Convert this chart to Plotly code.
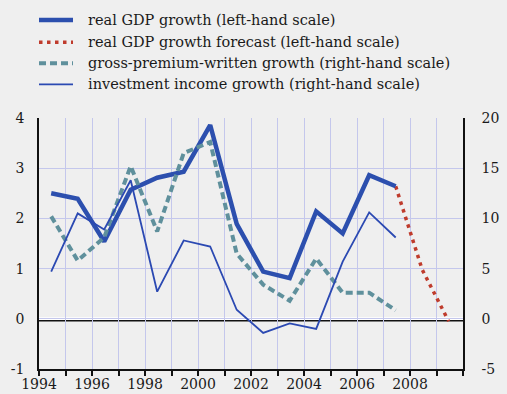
import plotly.graph_objects as go

# ---- data ----
years = list(range(1994, 2008))
gdp_growth = [2.50, 2.39, 1.54, 2.57, 2.81, 2.93, 3.86, 1.89, 0.94, 0.81, 2.14, 1.70, 2.86, 2.64]
forecast_years = [2007, 2008, 2009]
gdp_forecast = [2.64, 0.98, -0.05]
premium_growth = [10.2, 5.8, 8.1, 15.2, 8.7, 16.5, 17.6, 6.5, 3.4, 1.8, 6.0, 2.6, 2.6, 0.85]
investment_growth = [4.7, 10.5, 8.9, 13.8, 2.7, 7.8, 7.2, 0.9, -1.4, -0.45, -1.0, 5.7, 10.6, 8.1]

series_names = [
    "real GDP growth (left-hand scale)",
    "real GDP growth forecast (left-hand scale)",
    "gross-premium-written growth (right-hand scale)",
    "investment income growth (right-hand scale)",
]
x_tick_years = list(range(1994, 2010, 2))
left_ticks = [-1, 0, 1, 2, 3, 4]
right_ticks = [-5, 0, 5, 10, 15, 20]

MID = 0.46  # observations plotted mid-year
x_obs = [y + MID for y in years]
x_fc = [y + MID for y in forecast_years]

BLUE = "#2c4fae"
THIN = "#2b49b2"
TEAL = "#5f909c"
RED = "#bf3b2c"
GRID = "#c4c7ec"
BG = "#efefef"
TXT = "#1a1a1a"
FONT = "DejaVu Serif"
FS_LEG = 14.5
FS_TICK = 14

styles = [
    dict(color=BLUE, width=4.5, dash="solid"),
    dict(color=RED, width=3.5, dash="3.5px,4.5px"),
    dict(color=TEAL, width=4, dash="7px,4px"),
    dict(color=THIN, width=1.8, dash="solid"),
]

fig = go.Figure()
fig.add_trace(go.Scatter(x=x_obs, y=premium_growth, mode="lines", yaxis="y2",
                         line=styles[2], name=series_names[2], showlegend=False))
fig.add_trace(go.Scatter(x=x_obs, y=investment_growth, mode="lines", yaxis="y2",
                         line=styles[3], name=series_names[3], showlegend=False))
fig.add_trace(go.Scatter(x=x_fc, y=gdp_forecast, mode="lines",
                         line=styles[1], name=series_names[1], showlegend=False))
fig.add_trace(go.Scatter(x=x_obs, y=gdp_growth, mode="lines",
                         line=styles[0], name=series_names[0], showlegend=False))

# ---- plot geometry (pixels) ----
W, H = 507, 394
L, R, T, B = 39, 44, 118, 25
pw, ph = W - L - R, H - T - B

def px_x(p):
    return (p - L) / pw

def px_y(p):
    return (H - B - p) / ph

# manual legend
legend_rows = [20, 42.3, 63.3, 84.3]
shapes = []
annotations = []
for name, st, ry in zip(series_names, styles, legend_rows):
    shapes.append(dict(type="line", xref="paper", yref="paper",
                       x0=px_x(39), x1=px_x(73), y0=px_y(ry), y1=px_y(ry),
                       line=dict(color=st["color"], width=st["width"], dash=st["dash"])))
    annotations.append(dict(xref="paper", yref="paper", x=px_x(85.5), y=px_y(ry),
                            xanchor="left", yanchor="middle", showarrow=False,
                            text=name, font=dict(family=FONT, size=FS_LEG, color=TXT)))

# zero line: white band with dark line just below
shapes.append(dict(type="line", xref="paper", yref="y", x0=0, x1=1, y0=0, y1=0,
                   layer="between", line=dict(color="white", width=3)))
shapes.append(dict(type="line", xref="paper", yref="y", ysizemode="pixel", yanchor=0,
                   x0=0, x1=1, y0=-2, y1=-2, layer="between",
                   line=dict(color="#111111", width=1.5)))

tickfont = dict(family=FONT, size=FS_TICK, color=TXT)

fig.update_layout(
    width=W, height=H,
    margin=dict(l=L, r=R, t=T, b=B, pad=0),
    paper_bgcolor=BG, plot_bgcolor=BG,
    font=dict(family=FONT, size=FS_TICK, color=TXT),
    showlegend=False,
    shapes=shapes,
    annotations=annotations,
    xaxis=dict(
        range=[1994, 2010], autorange=False,
        tickmode="array", tickvals=x_tick_years, ticktext=[str(v) for v in x_tick_years],
        ticks="outside", ticklen=5, tickwidth=1.5, tickcolor="#111111",
        ticklabelstandoff=-4,
        minor=dict(dtick=1, tick0=1994, ticks="outside", ticklen=5, tickwidth=1.5,
                   tickcolor="#111111", showgrid=True, gridcolor=GRID, gridwidth=1),
        showgrid=True, gridcolor=GRID, gridwidth=1,
        showline=True, linecolor="#111111", linewidth=1.5,
        zeroline=False, automargin=False, fixedrange=True,
        tickfont=tickfont,
    ),
    yaxis=dict(
        range=[-1, 4], autorange=False,
        tickmode="array", tickvals=left_ticks, ticktext=[str(v) for v in left_ticks],
        ticks="", ticklabelstandoff=10,
        showgrid=True, gridcolor=GRID, gridwidth=1,
        showline=True, linecolor="#111111", linewidth=1.5,
        zeroline=False, automargin=False,
        tickfont=tickfont,
    ),
    yaxis2=dict(
        range=[-5, 20], autorange=False, overlaying="y", side="right",
        tickmode="array", tickvals=right_ticks, ticktext=[str(v) for v in right_ticks],
        ticks="", ticklabelstandoff=14,
        showgrid=False, showline=True, linecolor="#111111", linewidth=1.5,
        zeroline=False, automargin=False,
        tickfont=tickfont,
    ),
)

fig.write_html("out.html")
